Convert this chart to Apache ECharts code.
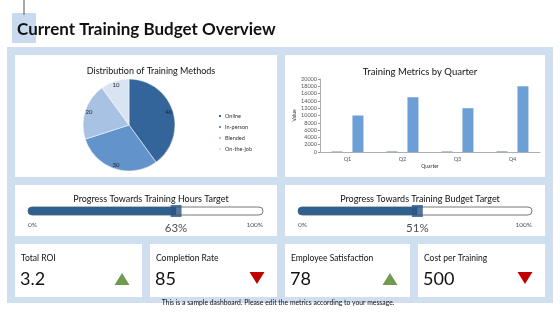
<!DOCTYPE html>
<html>
<head>
<meta charset="utf-8">
<script src="https://cdn.jsdelivr.net/npm/echarts@6/dist/echarts.min.js"></script>
<style>
  html, body { margin: 0; padding: 0; background: #fff; }
  #main { width: 560px; height: 315px; }
</style>
</head>
<body>
<div id="main"></div>
<script>
// donnees du tableau de bord
const methodNames = ["Online", "In-person", "Blended", "On-the-job"];
const methodValues = [40, 30, 20, 10];
const methodColors = ["#33649a", "#6293cb", "#a8c2e3", "#d9e4f2"];

const quarters = ["Q1", "Q2", "Q3", "Q4"];
const hoursValues = [100, 120, 110, 130];
const budgetValues = [10000, 15000, 12000, 18000];

const progressTitles = ["Progress Towards Training Hours Target", "Progress Towards Training Budget Target"];
const progressValues = [63, 51];

const kpiNames = ["Total ROI", "Completion Rate", "Employee Satisfaction", "Cost per Training"];
const kpiValues = ["3.2", "85", "78", "500"];
const kpiTrends = ["up", "down", "up", "down"];

const FONT = "Lato";
const chart = echarts.init(document.getElementById("main"));

// cartes blanches
const cards = [
  [15, 55, 262, 122], [285, 55, 260, 122],
  [15, 185, 262, 51], [285, 185, 260, 51],
  [15, 244, 127, 53], [150, 244, 127, 53], [285, 244, 125, 53], [418, 244, 127, 53]
];
const kpiX = [15, 150, 285, 418];
const kpiW = [127, 127, 125, 127];

const graphic = [
  { type: "rect", z: -5, shape: { x: 7, y: 47, width: 546, height: 256 }, style: { fill: "#cfdff0" } },
  { type: "rect", z: -4, shape: { x: 12, y: 13, width: 24, height: 30 }, style: { fill: "#c9daee" } },
  { type: "line", z: -4, shape: { x1: 24, y1: 0, x2: 24, y2: 15 }, style: { stroke: "#555", lineWidth: 1 } },
  {
    type: "text", z: 5, x: 17, y: 30,
    style: { text: "Current Training Budget Overview", font: "bold 17px " + FONT, fill: "#111", verticalAlign: "middle" }
  },
  {
    type: "text", z: 5, x: 278, y: 303,
    style: { text: "This is a sample dashboard. Please edit the metrics according to your message.", font: "6.8px " + FONT, fill: "#111", align: "center", verticalAlign: "middle" }
  }
];
cards.forEach((c) => {
  graphic.push({ type: "rect", z: -3, shape: { x: c[0], y: c[1], width: c[2], height: c[3] }, style: { fill: "#fff" } });
});
kpiNames.forEach((name, i) => {
  const x = kpiX[i];
  graphic.push({ type: "text", z: 5, x: x + 6, y: 258, style: { text: name, font: "8.5px " + FONT, fill: "#111", verticalAlign: "middle" } });
  graphic.push({ type: "text", z: 5, x: x + 5, y: 279, style: { text: kpiValues[i], font: "18px " + FONT, fill: "#111", verticalAlign: "middle" } });
  const cx = x + kpiW[i] - 20;
  const pts = kpiTrends[i] === "up"
    ? [[cx - 7.5, 285], [cx + 7.5, 285], [cx, 273]]
    : [[cx - 7.5, 272], [cx + 7.5, 272], [cx, 284]];
  graphic.push({
    type: "polygon", z: 5, shape: { points: pts },
    style: { fill: kpiTrends[i] === "up" ? "#6f9a50" : "#c00000" }
  });
});

const axisText = { fontSize: 5.5, color: "#555", fontFamily: FONT };

const progressGrids = [
  { left: 28, right: 297, top: 207, height: 8 },
  { left: 298, right: 28, top: 207, height: 8 }
];

const option = {
  animation: false,
  textStyle: { fontFamily: FONT },
  graphic: graphic,
  title: [
    { text: "Distribution of Training Methods", left: 146, top: 62, textAlign: "center", textStyle: { fontSize: 9, fontWeight: "normal", color: "#111", fontFamily: FONT } },
    { text: "Training Metrics by Quarter", left: 415, top: 62, textAlign: "center", textStyle: { fontSize: 9.5, fontWeight: "normal", color: "#111", fontFamily: FONT } },
    { text: progressTitles[0], left: 146, top: 190, textAlign: "center", textStyle: { fontSize: 9, fontWeight: "normal", color: "#111", fontFamily: FONT } },
    { text: progressTitles[1], left: 415, top: 190, textAlign: "center", textStyle: { fontSize: 9, fontWeight: "normal", color: "#111", fontFamily: FONT } }
  ],
  legend: {
    orient: "vertical",
    left: 212,
    top: 108,
    icon: "rect",
    itemWidth: 4,
    itemHeight: 4,
    itemGap: 5,
    data: methodNames,
    textStyle: { fontSize: 5.5, color: "#333", fontFamily: FONT, padding: [0, 0, 0, -2] }
  },
  grid: [
    { left: 320, right: 20, top: 79, bottom: 163 },
    progressGrids[0],
    progressGrids[1]
  ],
  xAxis: [
    {
      gridIndex: 0, type: "category", data: quarters,
      name: "Quarter", nameLocation: "middle", nameGap: 12,
      nameTextStyle: { fontSize: 5, color: "#333", fontFamily: FONT },
      axisLine: { lineStyle: { color: "#999", width: 0.8 } },
      axisTick: { length: 2, lineStyle: { color: "#999" } },
      axisLabel: Object.assign({ margin: 4 }, axisText)
    },
    {
      gridIndex: 1, type: "value", min: 0, max: 100, interval: 100,
      axisLine: { show: false }, axisTick: { show: false }, splitLine: { show: false },
      axisLabel: { formatter: "{value}%", fontSize: 6.5, color: "#555", margin: 6, alignMinLabel: "left", alignMaxLabel: "right", fontFamily: FONT }
    },
    {
      gridIndex: 2, type: "value", min: 0, max: 100, interval: 100,
      axisLine: { show: false }, axisTick: { show: false }, splitLine: { show: false },
      axisLabel: { formatter: "{value}%", fontSize: 6.5, color: "#555", margin: 6, alignMinLabel: "left", alignMaxLabel: "right", fontFamily: FONT }
    }
  ],
  yAxis: [
    {
      gridIndex: 0, type: "value", min: 0, max: 20000, interval: 2000,
      name: "Value", nameLocation: "middle", nameGap: 22,
      nameTextStyle: { fontSize: 5, color: "#333", fontFamily: FONT },
      axisLine: { show: true, lineStyle: { color: "#999", width: 0.8 } },
      axisTick: { show: true, length: 2, lineStyle: { color: "#999" } },
      splitLine: { show: false },
      axisLabel: Object.assign({ margin: 3, formatter: (v) => String(v) }, axisText)
    },
    { gridIndex: 1, type: "category", data: ["p"], show: false },
    { gridIndex: 2, type: "category", data: ["p"], show: false }
  ],
  series: [
    {
      type: "pie",
      center: [129, 125],
      radius: [0, 46],
      startAngle: 90,
      label: { show: false },
      labelLine: { show: false },
      itemStyle: { borderColor: "#fff", borderWidth: 0.5 },
      data: methodNames.map((n, i) => ({ name: n, value: methodValues[i], itemStyle: { color: methodColors[i] } }))
    },
    {
      // anneau invisible juste pour placer les etiquettes pres du bord
      type: "pie",
      center: [129, 125],
      radius: [32, 46],
      startAngle: 90,
      silent: true,
      label: { show: true, position: "inside", fontSize: 6, color: "#222", formatter: "{c}" },
      labelLine: { show: false },
      itemStyle: { color: "rgba(0,0,0,0)" },
      data: methodNames.map((n, i) => ({ name: n + " ", value: methodValues[i] }))
    },
    {
      name: "Hours", type: "bar", xAxisIndex: 0, yAxisIndex: 0,
      data: hoursValues, barWidth: 11, barGap: "90%",
      itemStyle: { color: "#4d6a88" }
    },
    {
      name: "Budget", type: "bar", xAxisIndex: 0, yAxisIndex: 0,
      data: budgetValues, barWidth: 11,
      itemStyle: { color: "#6b9fd5" }
    }
  ].concat(progressValues.flatMap((v, i) => [
    {
      type: "bar", xAxisIndex: i + 1, yAxisIndex: i + 1,
      data: [v], barWidth: 8,
      showBackground: true,
      backgroundStyle: { color: "#fff", borderColor: "#555", borderWidth: 0.8, borderRadius: 4 },
      itemStyle: { color: "#2f5f8f", borderRadius: [4, 0, 0, 4] }
    },
    {
      type: "scatter", xAxisIndex: i + 1, yAxisIndex: i + 1,
      data: [[v, 0]], symbol: "rect", symbolSize: [11, 12], z: 5,
      itemStyle: { color: "#2a5584" },
      label: { show: true, position: "bottom", distance: 5, formatter: (p) => p.value[0] + "%", fontSize: 11.5, color: "#222", fontFamily: FONT }
    }
  ]))
};

chart.setOption(option);
</script>
</body>
</html>
